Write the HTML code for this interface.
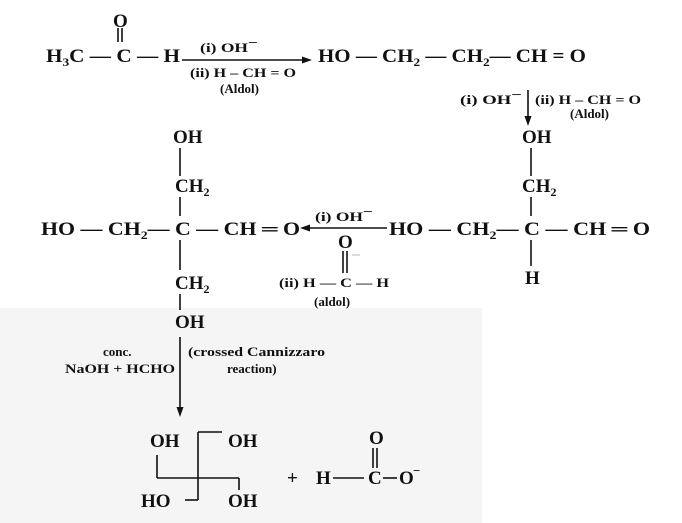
<!DOCTYPE html>
<html><head><meta charset="utf-8"><style>
html,body{margin:0;padding:0;background:#fff}
svg{display:block}
text{font-family:"Liberation Serif",serif;font-weight:bold;fill:#111}
.m{font-size:19px}.s{font-size:13px}
</style></head><body>
<svg width="682" height="523" viewBox="0 0 682 523" xmlns="http://www.w3.org/2000/svg">
<rect x="0" y="308" width="482" height="215" fill="#f5f5f5"/>
<g stroke="#111" stroke-width="1.6" fill="none">
<line x1="118" y1="28" x2="118" y2="42"/><line x1="122" y1="28" x2="122" y2="42"/>
<line x1="182" y1="60" x2="308" y2="60"/>
<line x1="528" y1="90" x2="528" y2="120"/>
<line x1="180" y1="148" x2="180" y2="176"/><line x1="180" y1="197" x2="180" y2="216"/>
<line x1="180" y1="240" x2="180" y2="270"/><line x1="180" y1="294" x2="180" y2="310"/>
<line x1="531" y1="148" x2="531" y2="176"/><line x1="531" y1="197" x2="531" y2="216"/>
<line x1="531" y1="240" x2="531" y2="266"/>
<line x1="387" y1="228" x2="306" y2="228"/>
<line x1="343" y1="251" x2="343" y2="273"/><line x1="347" y1="251" x2="347" y2="273"/>
<line x1="352" y1="255" x2="360" y2="255" stroke="#bbb" stroke-width="1"/>
<line x1="180" y1="337" x2="180" y2="412"/>
<line x1="157" y1="455" x2="157" y2="478"/><line x1="157" y1="478" x2="239" y2="478"/>
<line x1="239" y1="478" x2="239" y2="490"/>
<line x1="198" y1="432" x2="198" y2="500"/><line x1="198" y1="432" x2="222" y2="432"/>
<line x1="185" y1="500" x2="198" y2="500"/>
<line x1="373" y1="448" x2="373" y2="468"/><line x1="377" y1="448" x2="377" y2="468"/>
</g>
<g fill="#111">
<polygon points="312,60 302,56.5 302,63.5"/>
<polygon points="528,126 524.5,116 531.5,116"/>
<polygon points="300,228 310,224.5 310,231.5"/>
<polygon points="180,417 176.5,407 183.5,407"/>
</g>
<text class="m" x="113" y="27">O</text>
<text class="m" x="46" y="62" textLength="134" lengthAdjust="spacingAndGlyphs">H<tspan font-size="12" dy="4">3</tspan><tspan dy="-4">C — C — H</tspan></text>
<text class="s" x="200" y="52" textLength="58" lengthAdjust="spacingAndGlyphs">(i) OH<tspan dy="-5">−</tspan></text>
<text class="s" x="190" y="77" textLength="106" lengthAdjust="spacingAndGlyphs">(ii) H – CH = O</text>
<text class="s" x="220" y="93">(Aldol)</text>
<text class="m" x="318" y="62" textLength="268" lengthAdjust="spacingAndGlyphs">HO — CH<tspan font-size="12" dy="4">2</tspan><tspan dy="-4"> — CH</tspan><tspan font-size="12" dy="4">2</tspan><tspan dy="-4">— CH = O</tspan></text>
<text class="s" x="460" y="104" textLength="62" lengthAdjust="spacingAndGlyphs">(i) OH<tspan dy="-5">−</tspan></text>
<text class="s" x="535" y="104" textLength="106" lengthAdjust="spacingAndGlyphs">(ii) H – CH = O</text>
<text class="s" x="570" y="118">(Aldol)</text>
<text class="m" x="173" y="143">OH</text>
<text class="m" x="175" y="192">CH<tspan font-size="12" dy="4">2</tspan></text>
<text class="m" x="41" y="235" textLength="259" lengthAdjust="spacingAndGlyphs">HO — CH<tspan font-size="12" dy="4">2</tspan><tspan dy="-4">— C — CH ═ O</tspan></text>
<text class="m" x="175" y="289">CH<tspan font-size="12" dy="4">2</tspan></text>
<text class="m" x="175" y="328">OH</text>
<text class="s" x="315" y="221" textLength="58" lengthAdjust="spacingAndGlyphs">(i) OH<tspan dy="-5">−</tspan></text>
<text class="m" x="338" y="248" font-size="17">O</text>
<text class="s" x="279" y="287" textLength="110" lengthAdjust="spacingAndGlyphs">(ii) H — C — H</text>
<text class="s" x="314" y="306">(aldol)</text>
<text class="m" x="522" y="143">OH</text>
<text class="m" x="522" y="192">CH<tspan font-size="12" dy="4">2</tspan></text>
<text class="m" x="389" y="235" textLength="261" lengthAdjust="spacingAndGlyphs">HO — CH<tspan font-size="12" dy="4">2</tspan><tspan dy="-4">— C — CH ═ O</tspan></text>
<text class="m" x="525" y="284">H</text>
<text class="s" x="103" y="356">conc.</text>
<text class="s" x="65" y="373" textLength="110" lengthAdjust="spacingAndGlyphs">NaOH + HCHO</text>
<text class="s" x="188" y="356" textLength="137" lengthAdjust="spacingAndGlyphs">(crossed Cannizzaro</text>
<text class="s" x="227" y="373">reaction)</text>
<text class="m" x="150" y="447">OH</text>
<text class="m" x="228" y="447">OH</text>
<text class="m" x="141" y="507">HO</text>
<text class="m" x="228" y="507">OH</text>
<text class="m" x="287" y="484">+</text>
<text class="m" x="369" y="444">O</text>
<text class="m" x="316" y="484">H</text>
<text class="m" x="368" y="484">C</text>
<text class="m" x="399" y="484">O</text>
<text class="s" x="413" y="475">−</text>
<g stroke="#111" stroke-width="1.6"><line x1="333" y1="478" x2="364" y2="478"/><line x1="383" y1="478" x2="397" y2="478"/></g>
</svg>
</body></html>
